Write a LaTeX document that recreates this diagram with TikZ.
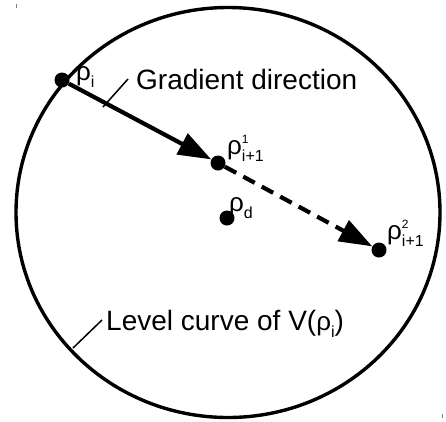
\documentclass[tikz,border=0pt]{standalone}
\usepackage{fontspec}
\setmainfont{Liberation Sans}
\usetikzlibrary{arrows.meta}
\newcommand\bigsz{\fontsize{28}{30}\selectfont}
\newcommand\rhosz{\fontsize{26}{28}\selectfont}
\newcommand\subsz{\fontsize{16}{17}\selectfont}
\newcommand\supsz{\fontsize{12}{13}\selectfont}
\newcommand\rhoi[1]{{\rhosz ρ}\raisebox{-7pt}{\subsz #1}}
\newcommand\rhoss[2]{{\rhosz ρ}\rlap{\raisebox{11pt}{\supsz #2}}\raisebox{-7pt}{\subsz #1}}
\begin{document}
\begin{tikzpicture}[x=1pt,y=-1pt,
  dot/.style={circle,fill=black,inner sep=0pt,minimum size=15pt},
  lbl/.style={inner sep=0pt,anchor=base west},
  leader/.style={line width=1.5pt},
  stepline/.style={line width=4.2pt,-{Triangle[length=33pt,width=23pt]}},
  crop/.style={gray,line width=1pt}]
\useasboundingbox (0,0) rectangle (446,421);
\draw[line width=3.4pt] (228,212.5) ellipse [x radius=212, y radius=205];
\node[dot] (pi) at (62,80) {};
\node[dot] (p1) at (218,163) {};
\node[dot] (pd) at (227,218) {};
\node[dot] (p2) at (379,250) {};
\draw[stepline] (pi) -- (p1);
\draw[stepline,dash pattern=on 13pt off 8pt] (p1) -- (p2);
\node[lbl] (lpi) at (76,80) {\rhoi{i}};
\node[lbl] (lp1) at (227,154) {\rhoss{i+1}{1}};
\node[lbl] (lpd) at (229,211) {\rhoi{d}};
\node[lbl] (lp2) at (387,239) {\rhoss{i+1}{2}};
\node[lbl] (grad) at (136,89) {\bigsz Gradient direction};
\node[lbl] (lev) at (106,330) {\bigsz Level curve of V(\rhoi{i})};
\coordinate (g1) at (128,79);
\coordinate (g2) at (103,107);
\coordinate (l1) at (102,320);
\coordinate (l2) at (73,348);
\draw[leader] (g1) -- (g2);
\draw[leader] (l1) -- (l2);
\coordinate (c1) at (16,4);
\coordinate (c2) at (16,8);
\coordinate (c3) at (442,414);
\coordinate (c4) at (442,418);
\draw[crop] (c1) -- (c2);
\draw[crop] (c3) -- (c4);
\end{tikzpicture}
\end{document}
